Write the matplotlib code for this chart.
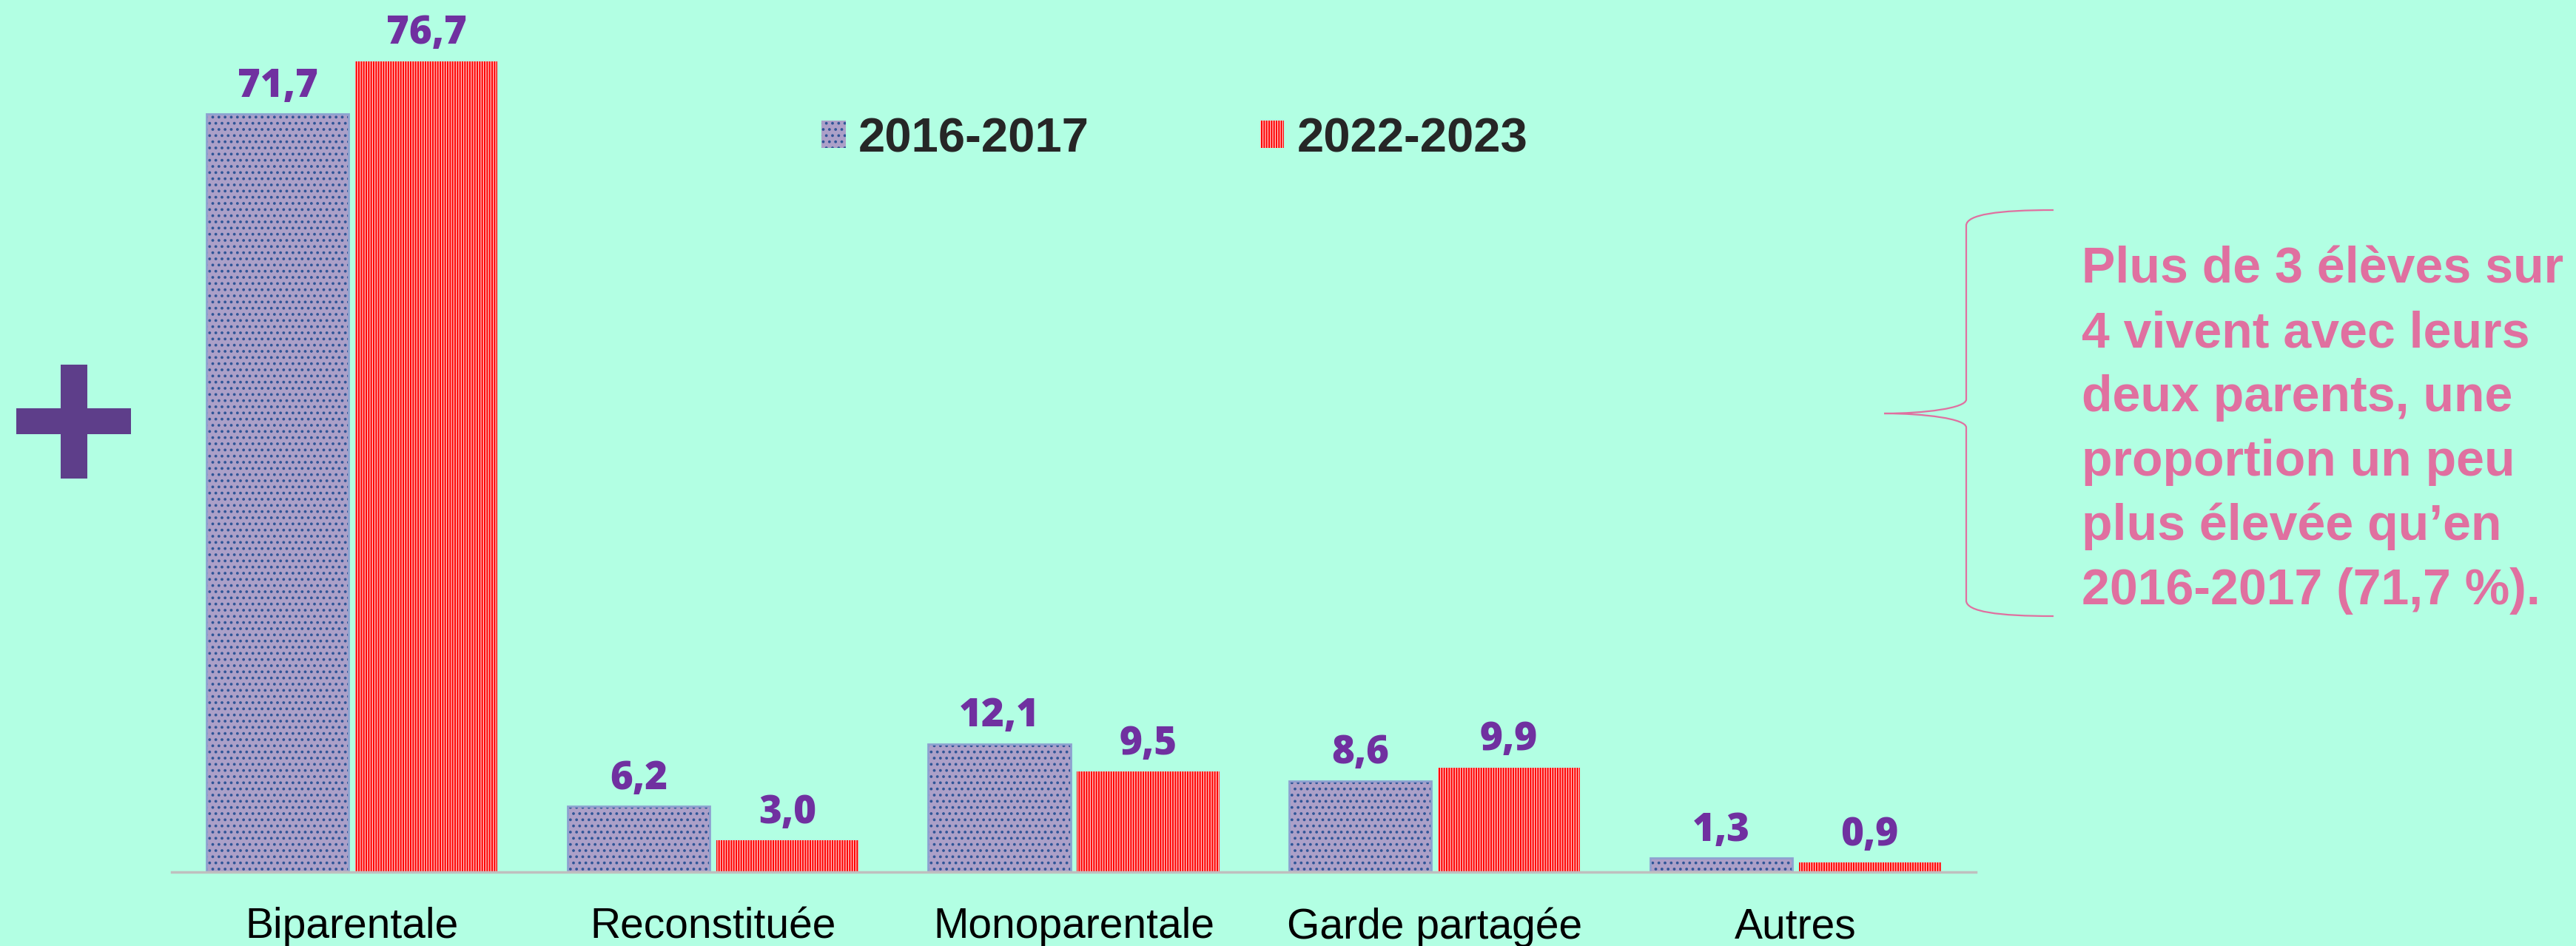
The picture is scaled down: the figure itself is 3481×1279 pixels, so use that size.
import numpy as np
import matplotlib
matplotlib.use("Agg")
import matplotlib.pyplot as plt
from matplotlib.patches import Rectangle, PathPatch
from matplotlib.path import Path

categories = ["Biparentale", "Reconstituée", "Monoparentale", "Garde partagée", "Autres"]
years = ["2016-2017", "2022-2023"]
vals_2016 = [71.7, 6.2, 12.1, 8.6, 1.3]
vals_2022 = [76.7, 3.0, 9.5, 9.9, 0.9]
note_lines = [
    "Plus de 3 élèves sur",
    "4 vivent avec leurs",
    "deux parents, une",
    "proportion un peu",
    "plus élevée qu’en",
    "2016-2017 (71,7 %).",
]

W, H = 3481, 1279
BG = "#B2FFE3"
PURPLE = "#ACA0C8"
DOTS = "#2F5597"
RED = "#FF0000"
LABEL = "#7030A0"
PINK = "#E070A0"

plt.rcParams["hatch.linewidth"] = 1.5


def fx(px):
    return px / W


def fy(py):
    return 1 - py / H


def fmt(v):
    return f"{v:.1f}".replace(".", ",")


fig = plt.figure(figsize=(W / 100, H / 100), dpi=100, facecolor=BG)
ax = fig.add_axes([fx(232), fy(1179), fx(2670) - fx(232), 1179 / H])
ax.set_facecolor(BG)

x = np.arange(len(categories))
bw, off = 0.394, 0.206
b1 = ax.bar(x - off, vals_2016, bw, color=PURPLE, edgecolor=DOTS, linewidth=0,
            hatch="..", label=years[0])
ax.bar(x - off, vals_2016, bw, fill=False, edgecolor="#8EA2D0", linewidth=2)
b2 = ax.bar(x + off, vals_2022, bw, color="#FFD0D0", edgecolor=RED, linewidth=0,
            hatch="|||||", label=years[1])

for bars, vals in ((b1, vals_2016), (b2, vals_2022)):
    for r, v in zip(bars, vals):
        ax.annotate(fmt(v), (r.get_x() + r.get_width() / 2, v), xytext=(0, 17),
                    textcoords="offset points", ha="center", va="baseline",
                    fontsize=38, fontweight=800, family="Open Sans", color=LABEL,
                    annotation_clip=False)

ax.set_xlim(-0.5, 4.5)
ax.set_ylim(0, 1179 / 14.29)
for s in ("top", "right", "left"):
    ax.spines[s].set_visible(False)
ax.spines["bottom"].set_color("#BFBFBF")
ax.spines["bottom"].set_linewidth(2.5)
ax.set_yticks([])
ax.set_xticks(x, categories, fontsize=41, family="Liberation Sans", color="black")
ax.tick_params(axis="x", length=0, pad=34)

leg = ax.legend(handles=[b1, b2], labels=years, ncol=2, loc="center left",
                bbox_to_anchor=(fx(1110), fy(188)), bbox_transform=fig.transFigure,
                frameon=False, prop=dict(family="Liberation Sans", weight="bold", size=47),
                handlelength=0.5, handleheight=0.5, handletextpad=0.26,
                columnspacing=3.54, borderpad=0, borderaxespad=0)
for t in leg.get_texts():
    t.set_color("#262626")

# plus sign on the left
plus = "#5E3E8A"
fig.add_artist(Rectangle((fx(82), fy(647)), fx(36), 154 / H, transform=fig.transFigure,
                         color=plus, lw=0))
fig.add_artist(Rectangle((fx(22), fy(587)), fx(155), 35 / H, transform=fig.transFigure,
                         color=plus, lw=0))

# curly brace
pts = [(2775, 284), (2700, 284), (2657, 290), (2657, 305),
       (2657, 540),
       (2657, 552), (2600, 559), (2546, 559),
       (2600, 559), (2657, 566), (2657, 578),
       (2657, 812),
       (2657, 827), (2700, 833), (2775, 833)]
codes = [Path.MOVETO, Path.CURVE4, Path.CURVE4, Path.CURVE4,
         Path.LINETO,
         Path.CURVE4, Path.CURVE4, Path.CURVE4,
         Path.CURVE4, Path.CURVE4, Path.CURVE4,
         Path.LINETO,
         Path.CURVE4, Path.CURVE4, Path.CURVE4]
brace = Path([(fx(a), fy(b)) for a, b in pts], codes)
fig.add_artist(PathPatch(brace, fill=False, edgecolor=PINK, lw=1.6,
                         transform=fig.transFigure))

for i, line in enumerate(note_lines):
    fig.text(fx(2813), fy(382 + i * 87), line, va="baseline", ha="left", fontsize=49,
             fontweight="bold", family="Liberation Sans", color=PINK)

fig.savefig("out.png", dpi=100, facecolor=BG)
